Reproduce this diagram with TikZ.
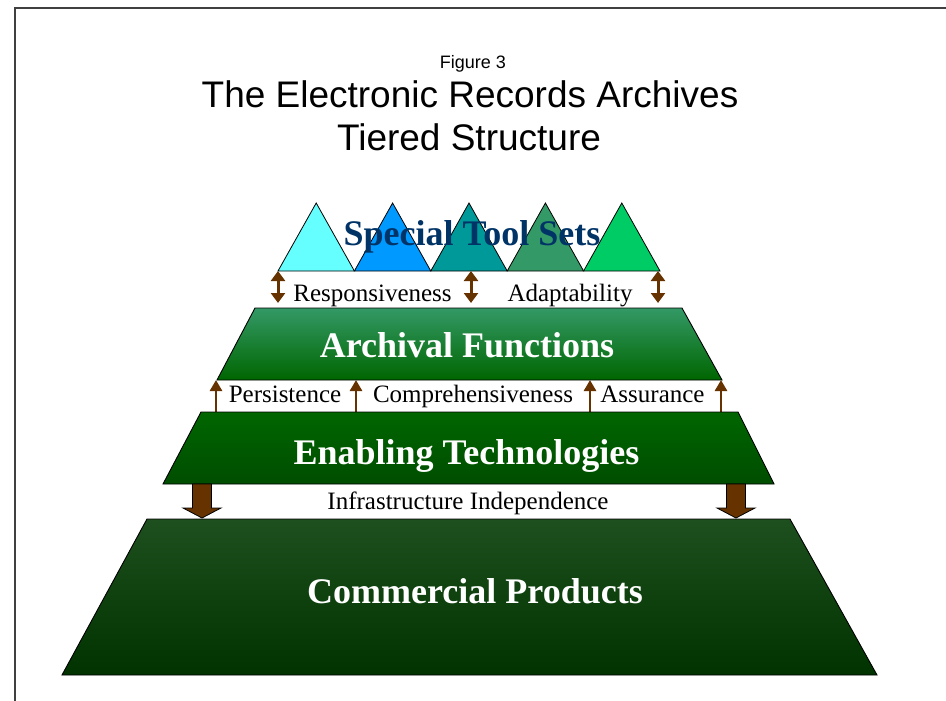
\documentclass[tikz,border=0pt]{standalone}
\usepackage{fontspec}
\setmainfont{Liberation Serif}
\newfontfamily\titlefont{Liberation Sans}
\usetikzlibrary{arrows.meta}
\definecolor{brownarr}{HTML}{663300}
\definecolor{tone}{HTML}{66FFFF}
\definecolor{ttwo}{HTML}{0099FF}
\definecolor{tthree}{HTML}{009999}
\definecolor{tfour}{HTML}{339966}
\definecolor{tfive}{HTML}{00CC66}
\definecolor{stsblue}{HTML}{003366}
\definecolor{arctop}{HTML}{339966}
\definecolor{arcbot}{HTML}{006600}
\definecolor{enatop}{HTML}{006600}
\definecolor{enabot}{HTML}{004D00}
\definecolor{comtop}{HTML}{1E4F1E}
\definecolor{combot}{HTML}{003300}
\tikzset{
  tri/.style={draw=black, line width=0.8pt},
  tier/.style={draw=black, line width=0.9pt},
  bigtext/.style={text=white, font=\fontsize{36}{40}\selectfont\bfseries, anchor=base, inner sep=0pt},
  smalltext/.style={text=black, font=\fontsize{25}{28}\selectfont, anchor=base, inner sep=0pt},
  dblarr/.style={brownarr, line width=3pt, {Triangle[width=14pt,length=10pt]}-{Triangle[width=14pt,length=10pt]}},
  uparr/.style={brownarr, line width=2.6pt, -{Triangle[width=12pt,length=11pt]}},
  blockarr/.style={fill=brownarr, draw=black, line width=0.8pt, line join=miter},
}
\begin{document}
\begin{tikzpicture}[x=1pt,y=-1pt]
\useasboundingbox (0,0) rectangle (946,701);
\fill[white] (0,0) rectangle (946,701);
% frame
\draw[line width=2pt, black!75] (946,8) -- (15,8) -- (15,701);

% title
\node[anchor=base, inner sep=0pt, font=\titlefont\fontsize{18}{20}\selectfont] (fig) at (473,69) {Figure 3};
\node[anchor=base, inner sep=0pt, font=\titlefont\fontsize{37}{42}\selectfont] (t1) at (470,107) {The Electronic Records Archives};
\node[anchor=base, inner sep=0pt, font=\titlefont\fontsize{37}{42}\selectfont] (t2) at (469,150) {Tiered Structure};

% triangles
\filldraw[tri, fill=tone]   (278,271) -- (316.2,203) -- (354.4,271) -- cycle;
\filldraw[tri, fill=ttwo]   (354.4,271) -- (392.6,203) -- (430.8,271) -- cycle;
\filldraw[tri, fill=tthree] (430.8,271) -- (469,203) -- (507.2,271) -- cycle;
\filldraw[tri, fill=tfour]  (507.2,271) -- (545.4,203) -- (583.6,271) -- cycle;
\filldraw[tri, fill=tfive]  (583.6,271) -- (621.8,203) -- (660,271) -- cycle;
\node[anchor=base, inner sep=0pt, text=stsblue, font=\fontsize{36}{40}\selectfont\bfseries] (sts) at (472,245) {Special Tool Sets};

% coordinates for connectors
\coordinate (d1a) at (278,271); \coordinate (d1b) at (278,303);
\coordinate (d2a) at (471,271); \coordinate (d2b) at (471,303);
\coordinate (d3a) at (658,271); \coordinate (d3b) at (658,303);
\draw[dblarr] (d1b) -- (d1a);
\draw[dblarr] (d2b) -- (d2a);
\draw[dblarr] (d3b) -- (d3a);
\node[smalltext] (resp) at (372.5,301) {Responsiveness};
\node[smalltext] (adap) at (570,301) {Adaptability};

% archival functions
\shade[tier, top color=arctop, bottom color=arcbot] (255,308) -- (682,308) -- (722,380) -- (217,380) -- cycle;
\node[bigtext] (arc) at (467,357) {Archival Functions};

\coordinate (u1a) at (216,412); \coordinate (u1b) at (216,380);
\coordinate (u2a) at (356,412); \coordinate (u2b) at (356,380);
\coordinate (u3a) at (590,412); \coordinate (u3b) at (590,380);
\coordinate (u4a) at (721,412); \coordinate (u4b) at (721,380);
\draw[uparr] (u1a) -- (u1b);
\draw[uparr] (u2a) -- (u2b);
\draw[uparr] (u3a) -- (u3b);
\draw[uparr] (u4a) -- (u4b);
\node[smalltext] (pers) at (285,402) {Persistence};
\node[smalltext] (comp) at (473,402) {Comprehensiveness};
\node[smalltext] (assu) at (652.5,402) {Assurance};

% enabling technologies
\shade[tier, top color=enatop, bottom color=enabot] (201,412) -- (738,412) -- (774,484) -- (163,484) -- cycle;
\node[bigtext] (ena) at (466.5,464) {Enabling Technologies};

% block arrows
\coordinate (ea1) at (202,484); \coordinate (ca1) at (202,518);
\coordinate (ea2) at (736,484); \coordinate (ca2) at (736,518);
\draw[blockarr] (ea1) ++(-9.5,0) -- ++(19,0) -- ++(0,24) -- ++(9.5,0) -- (ca1) -- ++(-19,-10) -- ++(9.5,0) -- cycle;
\draw[blockarr] (ea2) ++(-9.5,0) -- ++(19,0) -- ++(0,24) -- ++(9.5,0) -- (ca2) -- ++(-19,-10) -- ++(9.5,0) -- cycle;
\node[smalltext] (infra) at (468,509) {Infrastructure Independence};

% commercial products
\shade[tier, top color=comtop, bottom color=combot] (147,519) -- (790,519) -- (877,675) -- (62,675) -- cycle;
\node[bigtext] (com) at (475,603) {Commercial Products};
\end{tikzpicture}
\end{document}
